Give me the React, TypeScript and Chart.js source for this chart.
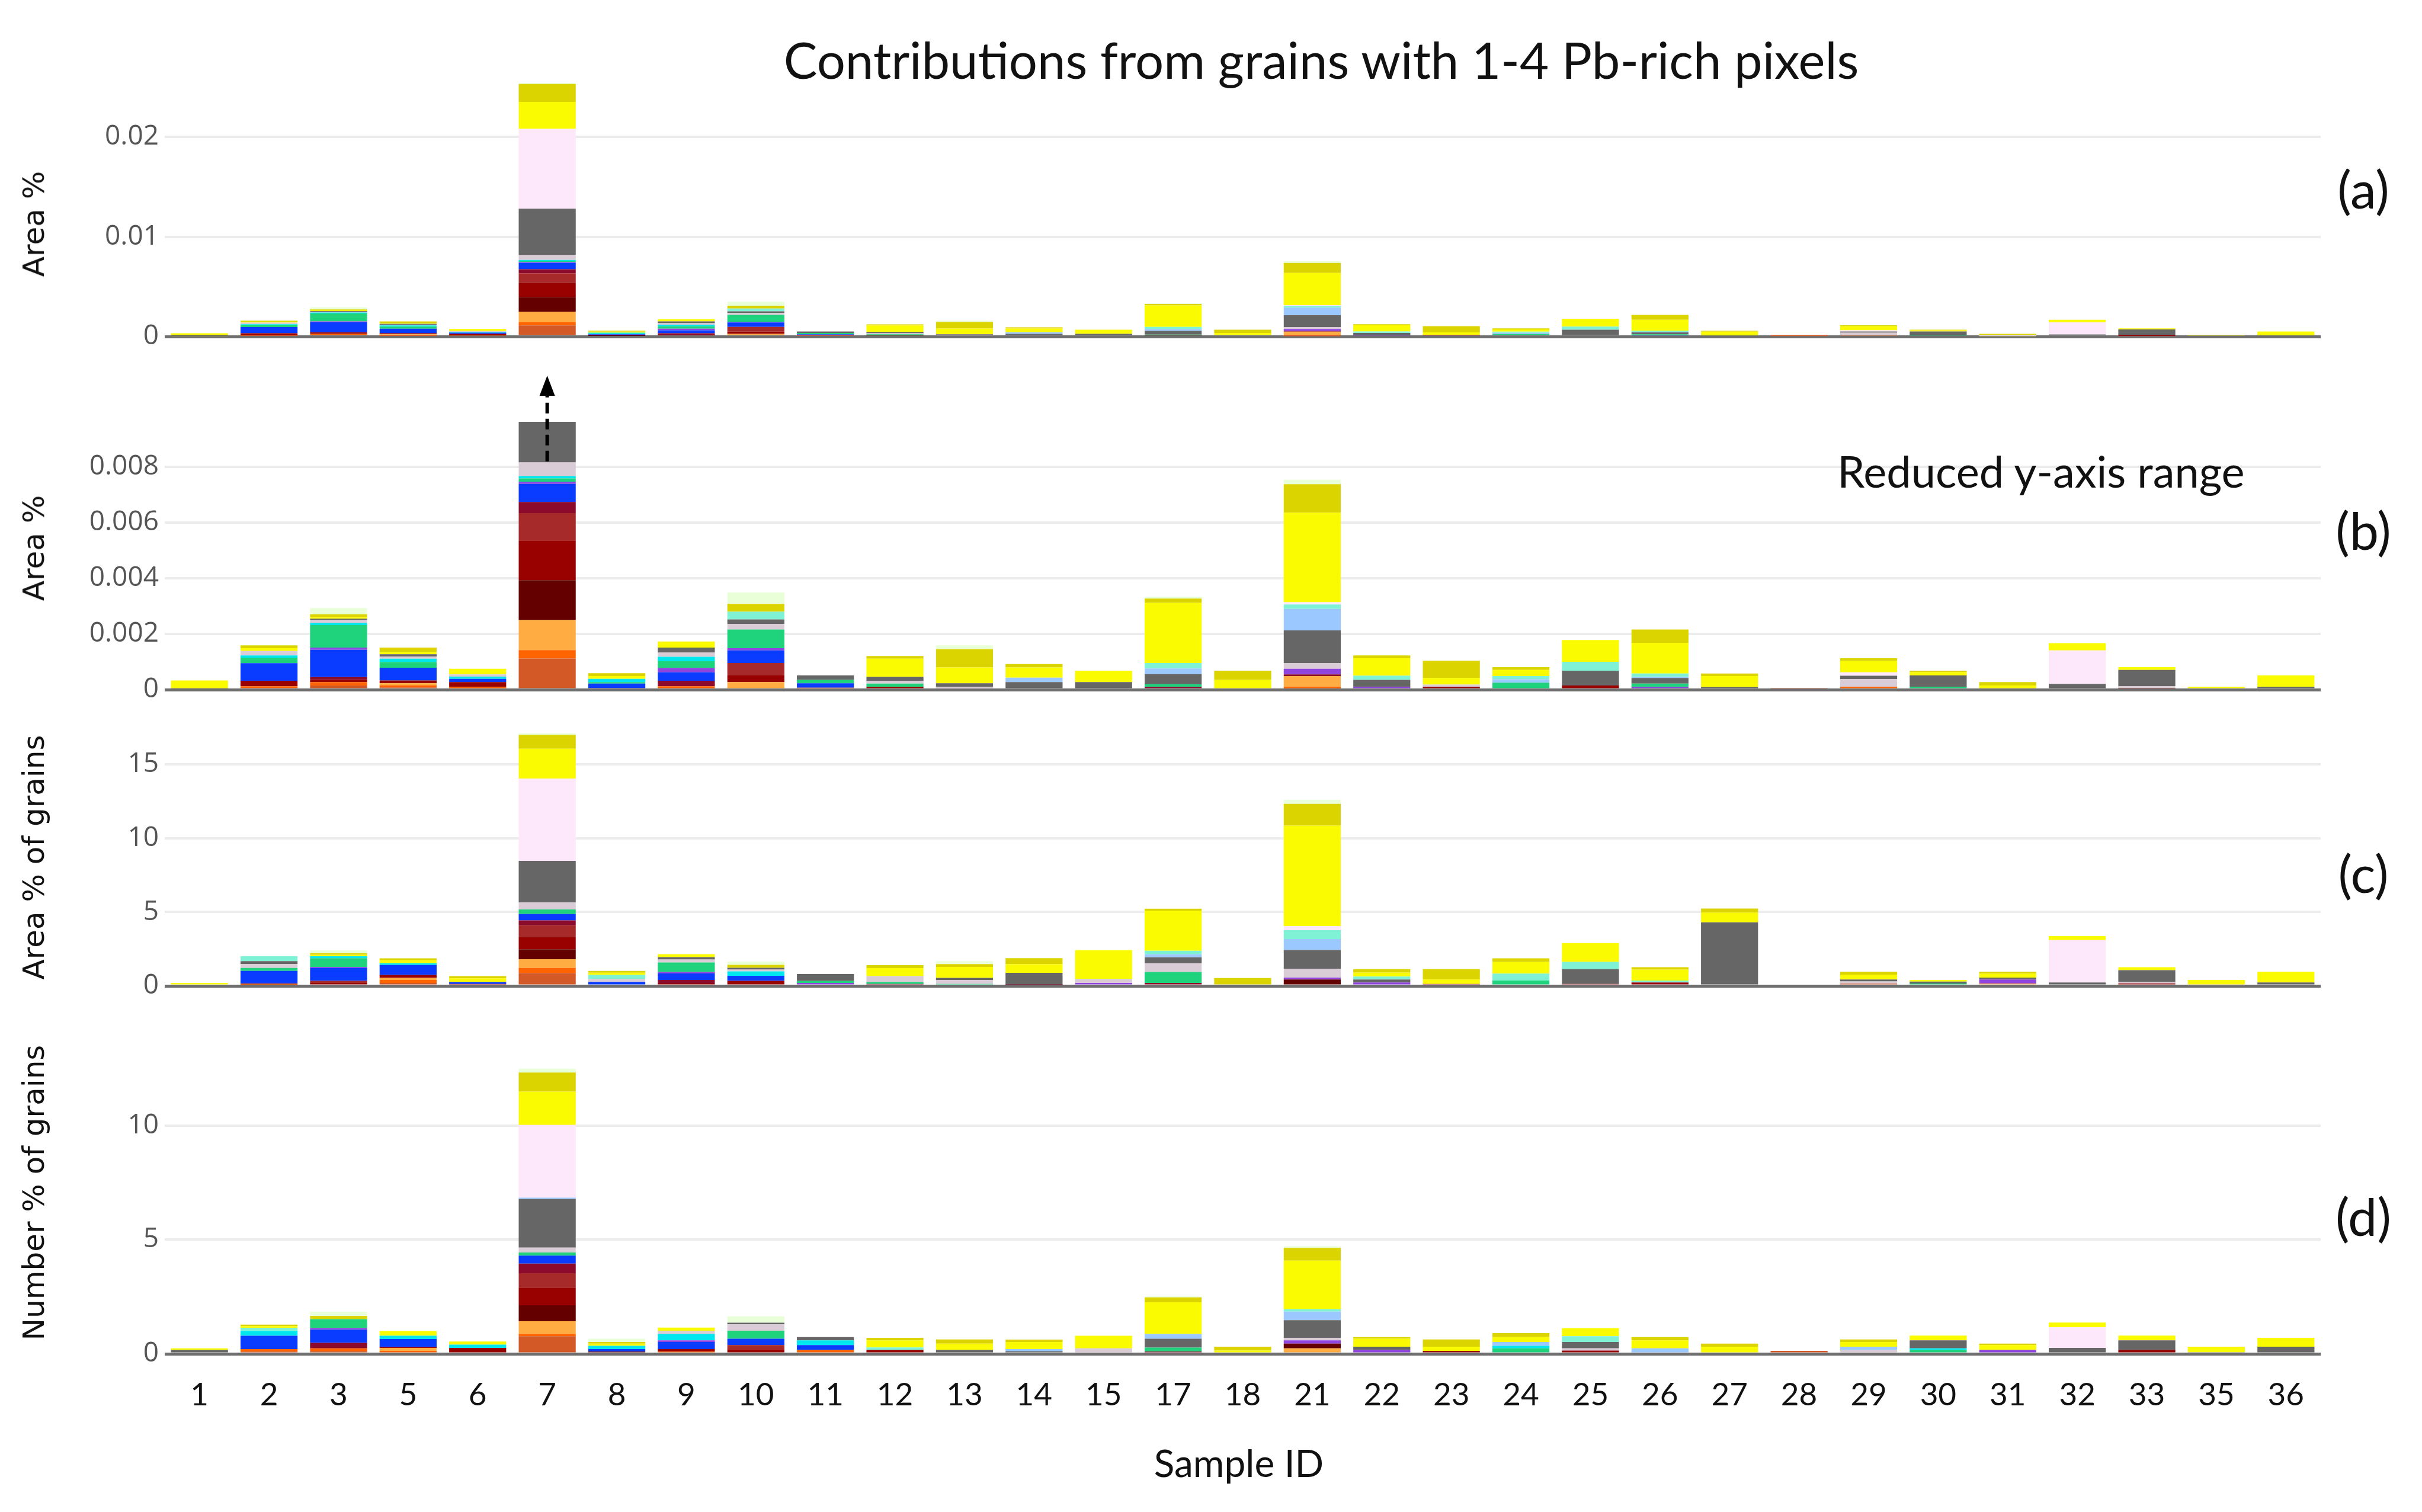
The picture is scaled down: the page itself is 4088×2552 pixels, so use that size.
import { useEffect, useRef } from "react";
import { Chart, registerables, type ChartConfiguration, type Plugin } from "chart.js";

Chart.register(...registerables);

// sample IDs along the shared x axis
const sampleIds = [1, 2, 3, 5, 6, 7, 8, 9, 10, 11, 12, 13, 14, 15, 17, 18, 21, 22, 23, 24, 25, 26, 27, 28, 29, 30, 31, 32, 33, 35, 36];

type P = [number, number]; // [sample id, value]

// ---- Area % (panels a and b) ----
const rustArea: P[] = [[2, 0.00006], [3, 0.00015], [5, 0.00008], [7, 0.00112], [21, 0.00005], [28, 0.00004]];
const orangeArea: P[] = [[2, 0.00006], [3, 0.00012], [5, 0.00008], [6, 0.0001], [7, 0.0003], [9, 0.00012], [11, 0.00007], [21, 0.00005], [29, 0.0001]];
const lightOrangeArea: P[] = [[5, 0.00007], [7, 0.00108], [10, 0.00027], [21, 0.00039]];
const maroonArea: P[] = [[7, 0.00143], [8, 0.00006]];
const darkRedArea: P[] = [[2, 0.0002], [3, 0.00008], [5, 0.0001], [6, 0.00017], [7, 0.00143], [10, 0.00024], [12, 0.0001], [23, 0.0001], [25, 0.00015], [33, 0.00004]];
const brownArea: P[] = [[7, 0.00098], [10, 0.00045]];
const crimsonArea: P[] = [[3, 0.0001], [7, 0.0004], [9, 0.0002], [17, 0.0001], [21, 0.00006]];
const blueArea: P[] = [[2, 0.00063], [3, 0.00098], [5, 0.00046], [6, 0.00012], [7, 0.00065], [8, 0.00016], [9, 0.0003], [10, 0.00045], [11, 0.00016]];
const purpleArea: P[] = [[3, 0.00008], [7, 0.00008], [9, 0.00016], [10, 0.00008], [21, 0.0002], [22, 0.0001], [26, 0.0001]];
const greenArea: P[] = [[2, 0.0002], [3, 0.00081], [5, 0.0002], [7, 0.00012], [8, 0.00005], [9, 0.00024], [10, 0.00067], [11, 0.00012], [12, 0.00012], [17, 0.00009], [24, 0.00025], [26, 0.00012], [30, 0.0001]];
const cyanArea: P[] = [[2, 0.00008], [3, 0.00008], [5, 0.00012], [6, 0.00008], [7, 0.00008], [8, 0.00012], [9, 0.00016]];
const silverArea: P[] = [[2, 0.00016], [3, 0.0001], [5, 0.00008], [6, 0.00008], [7, 0.00049], [9, 0.00015], [10, 0.0002], [12, 0.0001], [13, 0.0001], [21, 0.0002], [23, 0.00008], [29, 0.00028], [31, 0.00005], [33, 0.00008]];
const grayArea: P[] = [[1, 0.00005], [3, 0.00005], [5, 0.00008], [7, 0.00464], [9, 0.00018], [10, 0.00016], [11, 0.00016], [12, 0.00014], [13, 0.00013], [14, 0.00027], [15, 0.00027], [17, 0.00037], [21, 0.00118], [22, 0.00025], [25, 0.00053], [26, 0.0002], [27, 0.00009], [29, 0.00012], [30, 0.00041], [32, 0.00021], [33, 0.00059], [36, 0.0001]];
const lightBlueArea: P[] = [[14, 0.00016], [17, 0.0002], [21, 0.00077], [24, 0.00012], [26, 0.00004]];
const mintArea: P[] = [[10, 0.00028], [17, 0.0002], [21, 0.00016], [22, 0.00015], [24, 0.00012], [25, 0.00032], [26, 0.00012]];
const pinkArea: P[] = [[7, 0.008], [21, 0.00008], [29, 0.00012], [32, 0.0012]];
const yellowArea: P[] = [[1, 0.00028], [2, 0.0001], [3, 0.00006], [5, 0.00008], [6, 0.0002], [7, 0.0027], [8, 0.0001], [9, 0.00022], [12, 0.00065], [13, 0.00057], [14, 0.00037], [15, 0.00041], [17, 0.00216], [18, 0.00035], [21, 0.00322], [22, 0.00063], [23, 0.00024], [24, 0.00022], [25, 0.00078], [26, 0.0011], [27, 0.0004], [29, 0.00041], [30, 0.00012], [31, 0.0001], [32, 0.00026], [33, 0.0001], [35, 0.0001], [36, 0.00041]];
const oliveArea: P[] = [[2, 0.0001], [3, 0.0001], [5, 0.00016], [7, 0.0018], [8, 0.0001], [10, 0.00028], [12, 0.0001], [13, 0.00065], [14, 0.00012], [17, 0.00015], [18, 0.00033], [21, 0.00102], [22, 0.0001], [23, 0.00062], [24, 0.0001], [26, 0.00048], [27, 0.00009], [29, 0.0001], [30, 0.00005], [31, 0.00012]];
const paleGreenArea: P[] = [[3, 0.00022], [7, 0.0001], [10, 0.00041], [13, 0.00014], [17, 0.00006], [21, 0.00016]];

// ---- Area % of grains (panel c) ----
const rustGrain: P[] = [[2, 0.08], [5, 0.2], [7, 0.87], [28, 0.1], [29, 0.15]];
const orangeGrain: P[] = [[2, 0.08], [5, 0.2], [7, 0.34], [8, 0.1], [11, 0.1]];
const lightOrangeGrain: P[] = [[5, 0.14], [7, 0.6], [31, 0.16]];
const maroonGrain: P[] = [[7, 0.67], [21, 0.43]];
const darkRedGrain: P[] = [[3, 0.2], [5, 0.2], [6, 0.13], [7, 0.81], [9, 0.16], [10, 0.34], [26, 0.23], [33, 0.16]];
const brownGrain: P[] = [[3, 0.14], [7, 0.81], [23, 0.13], [25, 0.13]];
const crimsonGrain: P[] = [[7, 0.34], [9, 0.24], [12, 0.13], [14, 0.07], [17, 0.2]];
const blueGrain: P[] = [[2, 0.85], [3, 0.87], [5, 0.67], [6, 0.13], [7, 0.43], [8, 0.17], [9, 0.44], [10, 0.34]];
const purpleGrain: P[] = [[3, 0.07], [9, 0.1], [11, 0.1], [15, 0.2], [21, 0.13], [22, 0.23], [31, 0.27]];
const greenGrain: P[] = [[2, 0.2], [3, 0.6], [7, 0.31], [9, 0.65], [11, 0.13], [12, 0.13], [13, 0.13], [17, 0.74], [24, 0.36], [30, 0.16]];
const cyanGrain: P[] = [[3, 0.13], [5, 0.13], [10, 0.3]];
const silverGrain: P[] = [[2, 0.27], [7, 0.47], [8, 0.2], [9, 0.2], [10, 0.12], [12, 0.4], [13, 0.27], [15, 0.27], [17, 0.6], [21, 0.6], [29, 0.15], [33, 0.1], [35, 0.04]];
const grayGrain: P[] = [[2, 0.2], [7, 2.82], [9, 0.16], [10, 0.12], [11, 0.47], [13, 0.14], [14, 0.81], [17, 0.4], [21, 1.27], [22, 0.2], [25, 1.0], [27, 4.3], [29, 0.13], [30, 0.13], [31, 0.13], [32, 0.23], [33, 0.8], [36, 0.23]];
const lightBlueGrain: P[] = [[17, 0.2], [21, 0.74]];
const mintGrain: P[] = [[2, 0.34], [8, 0.27], [17, 0.24], [21, 0.6], [22, 0.2], [24, 0.47], [25, 0.5], [26, 0.13]];
const pinkGrain: P[] = [[7, 5.58], [21, 0.27], [32, 2.87]];
const yellowGrain: P[] = [[1, 0.2], [3, 0.1], [5, 0.2], [6, 0.25], [7, 2.02], [8, 0.15], [9, 0.2], [12, 0.54], [13, 0.74], [14, 0.6], [15, 1.95], [17, 2.72], [21, 6.82], [22, 0.27], [23, 0.3], [24, 0.8], [25, 1.27], [26, 0.74], [27, 0.67], [29, 0.33], [30, 0.11], [31, 0.27], [32, 0.27], [33, 0.2], [35, 0.36], [36, 0.73]];
const oliveGrain: P[] = [[3, 0.1], [5, 0.13], [6, 0.15], [7, 0.94], [8, 0.12], [10, 0.2], [12, 0.2], [13, 0.2], [14, 0.4], [17, 0.13], [18, 0.53], [21, 1.47], [22, 0.23], [23, 0.7], [24, 0.24], [26, 0.16], [27, 0.27], [29, 0.2], [31, 0.13]];
const paleGreenGrain: P[] = [[3, 0.2], [7, 0.1], [10, 0.23], [13, 0.2], [21, 0.27]];

// ---- Number % of grains (panel d) ----
const rustNum: P[] = [[2, 0.1], [3, 0.12], [7, 0.77], [28, 0.13]];
const orangeNum: P[] = [[2, 0.11], [3, 0.12], [5, 0.13], [7, 0.1], [9, 0.1], [11, 0.17]];
const lightOrangeNum: P[] = [[5, 0.13], [7, 0.56], [21, 0.24]];
const maroonNum: P[] = [[7, 0.7], [8, 0.1], [21, 0.21]];
const darkRedNum: P[] = [[5, 0.04], [6, 0.26], [7, 0.77], [9, 0.11], [10, 0.2], [12, 0.17], [23, 0.13], [25, 0.14], [33, 0.17]];
const brownNum: P[] = [[7, 0.63], [10, 0.18]];
const crimsonNum: P[] = [[3, 0.24], [7, 0.42], [17, 0.1]];
const blueNum: P[] = [[2, 0.58], [3, 0.58], [5, 0.35], [7, 0.35], [8, 0.11], [9, 0.31], [10, 0.28], [11, 0.21]];
const purpleNum: P[] = [[3, 0.07], [9, 0.07], [21, 0.14], [22, 0.17], [31, 0.17]];
const greenNum: P[] = [[3, 0.39], [7, 0.14], [10, 0.35], [17, 0.17], [24, 0.24], [30, 0.17]];
const cyanNum: P[] = [[2, 0.21], [5, 0.14], [6, 0.14], [8, 0.14], [9, 0.28], [11, 0.21], [24, 0.11], [30, 0.07]];
const silverNum: P[] = [[7, 0.21], [9, 0.14], [10, 0.28], [15, 0.24], [21, 0.11], [25, 0.1], [29, 0.17]];
const grayNum: P[] = [[1, 0.17], [7, 2.13], [10, 0.07], [11, 0.14], [13, 0.17], [14, 0.11], [17, 0.39], [21, 0.77], [22, 0.14], [25, 0.28], [30, 0.35], [32, 0.26], [33, 0.42], [35, 0.07], [36, 0.31]];
const lightBlueNum: P[] = [[7, 0.06], [14, 0.1], [17, 0.21], [21, 0.38], [24, 0.17], [26, 0.24], [29, 0.14]];
const mintNum: P[] = [[2, 0.14], [12, 0.11], [21, 0.1], [25, 0.25]];
const pinkNum: P[] = [[7, 3.18], [32, 0.9]];
const yellowNum: P[] = [[1, 0.07], [2, 0.07], [5, 0.21], [6, 0.14], [7, 1.46], [8, 0.1], [9, 0.14], [12, 0.31], [13, 0.28], [14, 0.31], [15, 0.55], [17, 1.39], [18, 0.14], [21, 2.13], [22, 0.35], [23, 0.18], [24, 0.21], [25, 0.35], [26, 0.35], [27, 0.31], [29, 0.21], [30, 0.21], [31, 0.21], [32, 0.21], [33, 0.21], [35, 0.24], [36, 0.39]];
const oliveNum: P[] = [[2, 0.07], [3, 0.14], [7, 0.84], [8, 0.07], [12, 0.11], [13, 0.18], [14, 0.1], [17, 0.21], [18, 0.17], [21, 0.56], [22, 0.07], [23, 0.32], [24, 0.18], [26, 0.14], [27, 0.14], [29, 0.11], [31, 0.07]];
const paleGreenNum: P[] = [[3, 0.18], [7, 0.17], [8, 0.14], [10, 0.28], [17, 0.04], [21, 0.07]];

// y tick values per panel
const ticksA = [0, 0.01, 0.02];
const ticksB = [0, 0.002, 0.004, 0.006, 0.008];
const ticksC = [0, 5, 10, 15];
const ticksD = [0, 5, 10];

// stacking order, bottom to top
const series = [
  { name: "rust", color: "#d35a27", area: rustArea, grain: rustGrain, num: rustNum },
  { name: "orange", color: "#ff6400", area: orangeArea, grain: orangeGrain, num: orangeNum },
  { name: "light orange", color: "#ffac42", area: lightOrangeArea, grain: lightOrangeGrain, num: lightOrangeNum },
  { name: "maroon", color: "#650000", area: maroonArea, grain: maroonGrain, num: maroonNum },
  { name: "dark red", color: "#990000", area: darkRedArea, grain: darkRedGrain, num: darkRedNum },
  { name: "brown", color: "#a62a2a", area: brownArea, grain: brownGrain, num: brownNum },
  { name: "crimson", color: "#8c0a2c", area: crimsonArea, grain: crimsonGrain, num: crimsonNum },
  { name: "blue", color: "#0a3cff", area: blueArea, grain: blueGrain, num: blueNum },
  { name: "purple", color: "#9044e0", area: purpleArea, grain: purpleGrain, num: purpleNum },
  { name: "green", color: "#1fd27c", area: greenArea, grain: greenGrain, num: greenNum },
  { name: "cyan", color: "#00e6ee", area: cyanArea, grain: cyanGrain, num: cyanNum },
  { name: "silver", color: "#d9ccd6", area: silverArea, grain: silverGrain, num: silverNum },
  { name: "gray", color: "#666666", area: grayArea, grain: grayGrain, num: grayNum },
  { name: "light blue", color: "#9ac8ff", area: lightBlueArea, grain: lightBlueGrain, num: lightBlueNum },
  { name: "mint", color: "#7ff2d6", area: mintArea, grain: mintGrain, num: mintNum },
  { name: "pink", color: "#fde7fa", area: pinkArea, grain: pinkGrain, num: pinkNum },
  { name: "yellow", color: "#fafa00", area: yellowArea, grain: yellowGrain, num: yellowNum },
  { name: "olive", color: "#dcd400", area: oliveArea, grain: oliveGrain, num: oliveNum },
  { name: "pale green", color: "#e8ffd8", area: paleGreenArea, grain: paleGreenGrain, num: paleGreenNum },
];

type Measure = "area" | "grain" | "num";

const lookup = (pts: P[], id: number) => pts.find((p) => p[0] === id)?.[1] ?? 0;

const W = 4088;
const AXIS_W = 278;
const RIGHT_PAD = 171;
const SANS = 'Lato, "Open Sans", sans-serif';

// dashed arrow above the clipped bar of sample 7 in panel (b)
const arrowPlugin: Plugin<"bar"> = {
  id: "clipArrow",
  afterDraw(chart) {
    const { ctx, chartArea } = chart;
    const x = chart.scales.x.getPixelForValue(sampleIds.indexOf(7));
    const yStart = chart.scales.y.getPixelForValue(0.0082);
    const yTip = chartArea.top - 78;
    ctx.save();
    ctx.strokeStyle = "#000";
    ctx.fillStyle = "#000";
    ctx.lineWidth = 6;
    ctx.setLineDash([18, 9]);
    ctx.beginPath();
    ctx.moveTo(x, yStart);
    ctx.lineTo(x, yTip + 30);
    ctx.stroke();
    ctx.setLineDash([]);
    ctx.beginPath();
    ctx.moveTo(x, yTip);
    ctx.lineTo(x - 13, yTip + 34);
    ctx.lineTo(x + 13, yTip + 34);
    ctx.closePath();
    ctx.fill();
    ctx.restore();
  },
};

type PanelProps = {
  measure: Measure;
  top: number;
  height: number;
  padTop: number;
  yMax: number;
  ticks: number[];
  showX?: boolean;
  arrow?: boolean;
};

function Panel({ measure, top, height, padTop, yMax, ticks, showX = false, arrow = false }: PanelProps) {
  const ref = useRef<HTMLCanvasElement | null>(null);

  useEffect(() => {
    const el = ref.current;
    if (!el) return;

    const cfg: ChartConfiguration<"bar"> = {
      type: "bar",
      data: {
        labels: sampleIds.map(String),
        datasets: series.map((s) => ({
          label: s.name,
          data: sampleIds.map((id) => lookup(s[measure], id)),
          backgroundColor: s.color,
          borderWidth: 0,
          barPercentage: 0.82,
          categoryPercentage: 1,
        })),
      },
      options: {
        responsive: false,
        animation: false,
        devicePixelRatio: 1,
        layout: { padding: { left: 0, right: RIGHT_PAD, top: padTop, bottom: showX ? 10 : 40 } },
        plugins: { legend: { display: false }, tooltip: { enabled: false } },
        scales: {
          x: {
            stacked: true,
            display: showX,
            grid: { display: false, drawTicks: false },
            border: { display: false },
            ticks: { color: "#111", font: { family: SANS, size: 53 }, padding: 38, maxRotation: 0, autoSkip: false },
            afterFit: (axis) => {
              axis.height = showX ? 110 : 0;
            },
          },
          y: {
            stacked: true,
            min: 0,
            max: yMax,
            grid: {
              color: (c) => (c.tick && c.tick.value === 0 ? "#6e6e6e" : "#ececec"),
              lineWidth: (c) => (c.tick && c.tick.value === 0 ? 5 : 4),
              drawTicks: false,
            },
            border: { display: false },
            ticks: {
              color: "#555",
              font: { family: '"Open Sans", sans-serif', size: 46 },
              padding: 10,
              callback: (v) => String(v),
            },
            afterBuildTicks: (axis) => {
              axis.ticks = ticks.map((v) => ({ value: v }));
            },
            afterFit: (axis) => {
              axis.width = AXIS_W;
            },
          },
        },
      },
      plugins: arrow ? [arrowPlugin] : [],
    };

    const chart = new Chart(el, cfg);
    return () => chart.destroy();
  }, [measure, padTop, yMax, ticks, showX, arrow]);

  return (
    <canvas
      ref={ref}
      width={W}
      height={height}
      style={{ position: "absolute", left: 0, top, width: W, height }}
    />
  );
}

function Text({ x, y, size, children, rotate = false, family = SANS, color = "#111" }: {
  x: number;
  y: number;
  size: number;
  children: string;
  rotate?: boolean;
  family?: string;
  color?: string;
}) {
  return (
    <div
      style={{
        position: "absolute",
        left: x,
        top: y,
        transform: `translate(-50%, -50%)${rotate ? " rotate(-90deg)" : ""}`,
        fontFamily: family,
        fontSize: size,
        color,
        whiteSpace: "nowrap",
        lineHeight: 1,
      }}
    >
      {children}
    </div>
  );
}

const AXIS_FONT = '"DejaVu Sans", Verdana, sans-serif';

export default function App() {
  return (
    <div style={{ position: "fixed", left: 0, top: 0, width: W, height: 2552, background: "#fff", overflow: "hidden" }}>
      <Panel measure="area" top={90} height={518} padTop={40} yMax={0.026} ticks={ticksA} />
      <Panel measure="area" top={612} height={592} padTop={100} yMax={0.00962} ticks={ticksB} arrow />
      <Panel measure="grain" top={1188} height={516} padTop={40} yMax={17.5} ticks={ticksC} />
      <Panel measure="num" top={1744} height={661} padTop={40} yMax={13} ticks={ticksD} showX />

      <Text x={2230} y={100} size={85}>Contributions from grains with 1-4 Pb-rich pixels</Text>
      <Text x={3445} y={795} size={74}>Reduced y-axis range</Text>
      <Text x={2091} y={2469} size={64}>Sample ID</Text>

      <Text x={3989} y={318} size={88}>(a)</Text>
      <Text x={3989} y={894} size={88}>(b)</Text>
      <Text x={3989} y={1473} size={88}>(c)</Text>
      <Text x={3989} y={2052} size={88}>(d)</Text>

      <Text x={57} y={378} size={50} rotate family={AXIS_FONT}>Area %</Text>
      <Text x={57} y={925} size={50} rotate family={AXIS_FONT}>Area %</Text>
      <Text x={57} y={1447} size={50} rotate family={AXIS_FONT}>Area % of grains</Text>
      <Text x={57} y={2013} size={50} rotate family={AXIS_FONT}>Number % of grains</Text>
    </div>
  );
}
